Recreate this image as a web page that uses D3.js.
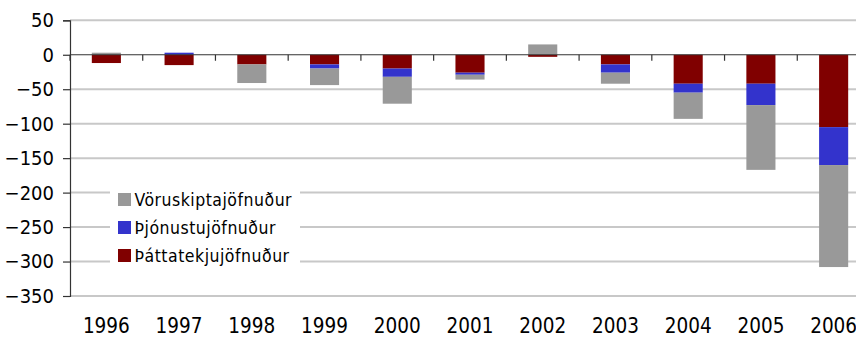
<!DOCTYPE html>
<html><head><meta charset="utf-8">
<script src="https://cdn.jsdelivr.net/npm/d3@7/dist/d3.min.js"></script>
<style>
html,body{margin:0;padding:0;background:#fff;}
svg{display:block;overflow:hidden;}
text{font-family:"DejaVu Sans Condensed","DejaVu Sans",sans-serif;fill:#000;}
</style></head>
<body>
<svg id="c" width="856" height="337"></svg>
<script>
const years = ["1996","1997","1998","1999","2000","2001","2002","2003","2004","2005","2006"];
const seriesNames = ["Vöruskiptajöfnuður","Þjónustujöfnuður","Þáttatekjujöfnuður"];
const seriesColors = ["#999999","#3333CC","#800000"];
const voruskipti  = [3, 0, -27, -24, -39, -7, 15, -16, -38, -94, -148];
const thjonusta   = [0, 3, 0, -6, -12, -3, 0, -12, -13, -31, -55];
const thattatekjur= [-12, -15, -14, -14, -20, -26, -3, -14, -42, -42, -105];
const yTicks = [50,0,-50,-100,-150,-200,-250,-300,-350];

const svg = d3.select("#c");
const x = d3.scaleBand().domain(years).range([70, 870]).paddingInner(0.6).paddingOuter(0.3);
const y = d3.scaleLinear().domain([-350, 50]).range([296, 20.3]);

// gridlines
svg.append("g").selectAll("line").data(yTicks.filter(d=>d!==0)).join("line")
  .attr("x1",70).attr("x2",870).attr("y1",d=>y(d)).attr("y2",d=>y(d))
  .attr("stroke","#c8c8c8").attr("stroke-width",2);

// stacking: negatives downward starting with Þáttatekjur, then Þjónusta, then Vöruskipti
const order = [2,1,0];
const data = [voruskipti, thjonusta, thattatekjur];
const bars = [];
years.forEach((yr,i)=>{
  let neg = 0, pos = 0;
  order.forEach(s=>{
    const v = data[s][i];
    if (v < 0) { bars.push({yr, s, y0: neg, y1: neg + v}); neg += v; }
    else if (v > 0) { bars.push({yr, s, y0: pos, y1: pos + v}); pos += v; }
  });
});
svg.append("g").selectAll("rect").data(bars).join("rect")
  .attr("x",d=>x(d.yr)).attr("width",x.bandwidth())
  .attr("y",d=>y(Math.max(d.y0,d.y1)))
  .attr("height",d=>Math.abs(y(d.y0)-y(d.y1)))
  .attr("fill",d=>seriesColors[d.s]);

// zero line with category ticks
svg.append("line").attr("x1",70).attr("x2",870).attr("y1",y(0)).attr("y2",y(0))
  .attr("stroke","#333").attr("stroke-width",1.2);
const bounds = years.map(d=>x(d)-x.step()*x.paddingInner()/2).concat([870]);
bounds[0]=70;
svg.append("g").selectAll("line").data(bounds).join("line")
  .attr("x1",d=>d).attr("x2",d=>d).attr("y1",y(0)).attr("y2",y(0)+6)
  .attr("stroke","#333").attr("stroke-width",1.2);

// y axis
const yAxis = d3.axisLeft(y).tickValues(yTicks).tickSize(7).tickPadding(9);
const ya = svg.append("g").attr("transform","translate(70,0)").call(yAxis);
ya.select(".domain").attr("stroke","#333").attr("stroke-width",1.2);
ya.selectAll(".tick line").attr("stroke","#333").attr("stroke-width",1.2);
ya.selectAll(".tick text").style("font-size","20px").attr("fill","#000");

// x labels
svg.append("g").selectAll("text").data(years).join("text")
  .attr("x",d=>x(d)+x.bandwidth()/2).attr("y",333)
  .attr("text-anchor","middle").style("font-size","20.5px").text(d=>d);

// legend
const lg = svg.append("g");
lg.append("rect").attr("x",110).attr("y",178).attr("width",190).attr("height",96).attr("fill","#fff");
const items = lg.selectAll("g").data(seriesNames).join("g")
  .attr("transform",(d,i)=>`translate(118,${199.5+i*28})`);
items.append("rect").attr("x",0).attr("y",-6.5).attr("width",13).attr("height",13)
  .attr("fill",(d,i)=>seriesColors[i]);
items.append("text").attr("x",16.5).attr("y",0).attr("dy","0.35em")
  .style("font-size","17.5px").style("letter-spacing","0.5px").text(d=>d);
</script>
</body></html>
